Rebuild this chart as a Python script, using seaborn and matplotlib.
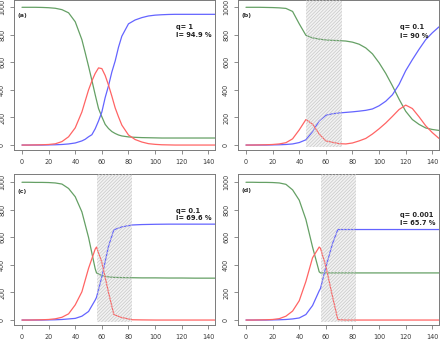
"""
Four-panel epidemic curves (S green, I red, R blue) with control windows.
Writes: out.png
"""

import matplotlib
matplotlib.use("Agg")
import matplotlib.pyplot as plt
import seaborn as sns

# ---- data ----
days_a = [0, 5, 10, 15, 20, 25, 30, 35, 40, 45, 47.5, 50, 52.5, 55, 57.5, 60, 62.5, 65,
          67.5, 70, 72.5, 75, 80, 85, 90, 95, 100, 105, 110, 115, 120, 125, 130, 135, 140, 145]
S_a = [1000, 1000, 1000, 999, 997, 993, 983, 960, 895, 765, 670, 572, 470, 365, 265, 205,
       150, 120, 98, 84, 73, 66, 59, 56, 54, 53, 52, 51, 51, 51, 51, 51, 51, 51, 51, 51]
I_a = [0, 0, 1, 2, 4, 9, 25, 60, 125, 240, 320, 400, 465, 520, 560, 555, 505, 435,
       355, 270, 205, 145, 73, 40, 22, 10, 5, 2, 1, 0, 0, 0, 0, 0, 0, 0]
R_a = [0, 0, 0, 0, 1, 2, 4, 8, 15, 30, 42, 60, 75, 118, 175, 240, 345, 430,
       530, 610, 710, 790, 880, 908, 925, 937, 943, 946, 948, 949, 949, 949, 949, 949, 949, 949]

days_b = list(range(0, 150, 5))
S_b = [1000, 1000, 1000, 999, 998, 996, 992, 970, 880, 797, 778, 769, 763, 760, 758, 755,
       747, 732, 705, 662, 597, 520, 430, 333, 245, 185, 150, 124, 113, 106]
I_b = [0, 0, 1, 2, 4, 8, 17, 45, 110, 185, 152, 80, 30, 20, 10, 8,
       15, 30, 48, 80, 118, 160, 208, 258, 290, 265, 205, 140, 90, 48]
R_b = [0, 0, 0, 0, 1, 2, 4, 8, 18, 38, 98, 175, 216, 227, 233, 237,
       241, 246, 252, 262, 285, 318, 365, 440, 540, 620, 695, 765, 815, 858]

days_c = [0, 5, 10, 15, 20, 25, 30, 35, 40, 45, 50, 55, 56, 60, 65, 69, 75, 80, 83,
          90, 100, 110, 120, 130, 140, 145]
S_c = [1000, 1000, 999, 999, 998, 995, 987, 955, 895, 785, 600, 372, 342, 322, 313, 310,
       308, 307, 307, 306, 306, 305, 305, 304, 304, 304]
I_c = [0, 0, 1, 2, 4, 9, 20, 45, 110, 205, 375, 515, 530, 418, 200, 40,
       18, 8, 2, 1, 0, 0, 0, 0, 0, 0]
R_c = [0, 0, 0, 0, 1, 2, 4, 8, 12, 28, 62, 145, 165, 315, 535, 655,
       676, 685, 690, 693, 695, 696, 696, 696, 696, 696]

days_d = [0, 5, 10, 15, 20, 25, 30, 35, 40, 45, 50, 55, 56, 60, 65, 69, 75, 90, 110, 130, 145]
S_d = [1000, 1000, 999, 999, 998, 995, 985, 945, 870, 730, 530, 350, 342, 342, 342, 342,
       342, 342, 342, 342, 342]
I_d = [0, 0, 1, 2, 4, 10, 28, 65, 140, 280, 452, 530, 520, 390, 170, 3,
       0, 0, 0, 0, 0]
R_d = [0, 0, 0, 0, 1, 2, 4, 8, 15, 40, 105, 212, 230, 385, 555, 657,
       657, 657, 657, 657, 657]

panel_tags = ["(a)", "(b)", "(c)", "(d)"]
q_labels = ["q= 1", "q= 0.1", "q= 0.1", "q= 0.001"]
i_labels = ["I= 94.9 %", "I= 90 %", "I= 69.6 %", "I= 65.7 %"]
windows = [None, (45, 72), (56, 83), (56, 83)]

panels = [
    (days_a, S_a, I_a, R_a),
    (days_b, S_b, I_b, R_b),
    (days_c, S_c, I_c, R_c),
    (days_d, S_d, I_d, R_d),
]

# ---- style ----
sns.set_style("white")
plt.rcParams["font.family"] = ["DejaVu Sans"]
plt.rcParams["hatch.linewidth"] = 0.5

GREEN = "#65a065"
RED = "#ff6464"
BLUE = "#6464ff"
EDGE = "#7a7a7a"

W, H = 440, 343
fig = plt.figure(figsize=(W / 100, H / 100), dpi=100)

# axes boxes in pixels: left, right, top, bottom
boxes = [(14, 215, 0, 150), (238, 439, 0, 150), (14, 215, 174, 325), (238, 439, 174, 325)]
ylims = [(-36, 1053), (-36, 1053), (-36, 1060), (-36, 1060)]
text_y = [(857, 799), (855, 794), (794, 738), (762, 706)]
tag_y = [939, 939, 932, 939]

for k, (days, S, I, R) in enumerate(panels):
    l, r, t, b = boxes[k]
    ax = fig.add_axes([l / W, 1 - b / H, (r - l) / W, (b - t) / H])

    sns.lineplot(x=days, y=S, color=GREEN, linewidth=0.9, ax=ax)
    sns.lineplot(x=days, y=R, color=BLUE, linewidth=0.9, ax=ax)
    sns.lineplot(x=days, y=I, color=RED, linewidth=0.9, ax=ax)

    if windows[k] is not None:
        x0, x1 = windows[k]
        # faint fill under the curves, fine hatch over them
        ax.axvspan(x0, x1, ymin=0.02, ymax=1, facecolor="#f2f2f2", linewidth=0, zorder=0.5)
        ax.axvspan(x0, x1, ymin=0.02, ymax=1, facecolor="none", edgecolor="#c8c8c8",
                   hatch="//////////", linewidth=0, zorder=3)

    ax.set_xlim(-6, 145)
    ax.set_ylim(*ylims[k])
    ax.set_xticks(range(0, 141, 20))
    ax.set_yticks(range(0, 1001, 200))
    ax.tick_params(direction="out", length=3.2, width=0.6, color=EDGE,
                   labelsize=4.7, labelcolor="#3a3a3a", pad=3.2,
                   bottom=True, left=True)
    for lab in ax.get_yticklabels():
        lab.set_rotation(90)
        lab.set_va("center")
    for sp in ax.spines.values():
        sp.set_color(EDGE)
        sp.set_linewidth(0.7)
    ax.set_xlabel("")
    ax.set_ylabel("")

    ax.text(-3, tag_y[k], panel_tags[k], fontsize=4.6, fontweight="bold",
            color="#333333", ha="left", va="center")
    ax.text(116, text_y[k][0], q_labels[k], fontsize=4.8, fontweight="bold",
            color="#222222", ha="left", va="center")
    ax.text(116, text_y[k][1], i_labels[k], fontsize=4.8, fontweight="bold",
            color="#222222", ha="left", va="center")

fig.savefig("out.png", dpi=100)
